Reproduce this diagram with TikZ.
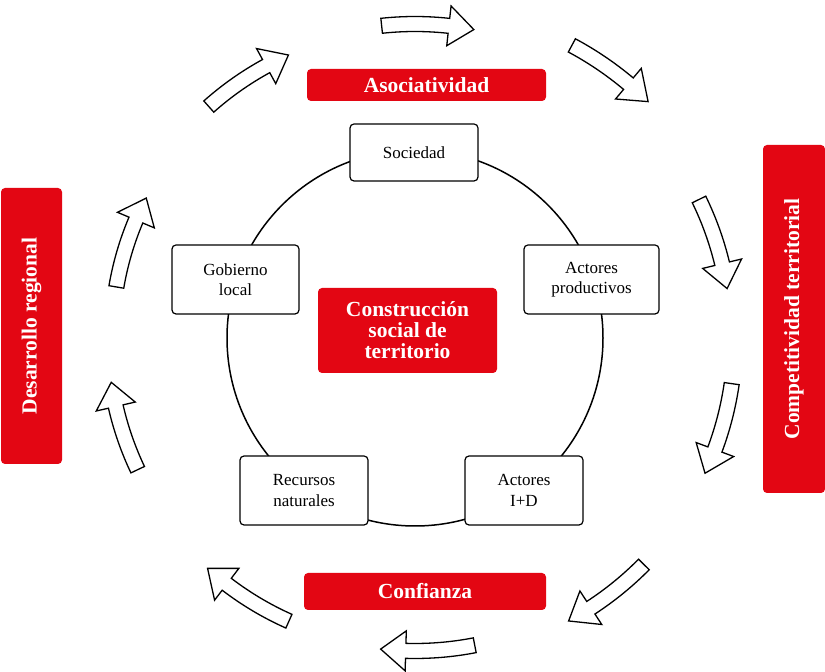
\documentclass[tikz,border=0pt]{standalone}
\usepackage{fontspec}
\setmainfont{Liberation Serif}
\usepackage{tikz}
\definecolor{rojo}{RGB}{227,6,19}

\newcommand{\flecha}[3]{%
\pgfmathsetmacro{\hb}{#3+4.6}
\draw[band] (#2:{#1-7.5}) arc[start angle=#2, end angle=\hb, radius={#1-7.5}]
  -- (\hb:{#1-20}) -- (#3:#1) -- (\hb:{#1+20}) -- (\hb:{#1+7.5})
  arc[start angle=\hb, end angle=#2, radius={#1+7.5}] -- cycle;}

\begin{document}
\begin{tikzpicture}[x=1pt,y=1pt,
  wbox/.style={draw,rounded corners=4pt,fill=white,line width=1.2pt,align=center,
    font=\fontsize{17}{20.5}\selectfont,inner sep=0pt},
  rbox/.style={fill=rojo,rounded corners=4pt,text=white,align=center,inner sep=0pt,
    font=\fontsize{21.5}{21}\selectfont\bfseries},
  band/.style={draw,fill=white,line width=1.3pt,line join=miter}]
\useasboundingbox (0,0) rectangle (825,672);

\draw[line width=1.5pt] (415,334) circle[radius=188];

\node [wbox,minimum width=128,minimum height=57] (soc) at (414,519.5) {Sociedad};
\node [wbox,minimum width=127,minimum height=69] (gob) at (235.5,392.5) {Gobierno\\local};
\node [wbox,minimum width=135,minimum height=69] (prod) at (591.5,392.5) {Actores\\productivos};
\node [wbox,minimum width=128,minimum height=69] (rec) at (304,181.5) {Recursos\\naturales};
\node [wbox,minimum width=118,minimum height=69] (id) at (524,181.5) {Actores\\I+D};
\node [rbox,minimum width=179,minimum height=85] (centro) at (407.5,341.5) {Construcción\\social de\\territorio};

\node [rbox,minimum width=239,minimum height=32] (asoc) at (426.5,587) {Asociatividad};
\node [rbox,minimum width=242,minimum height=37] (conf) at (425,80.5) {Confianza};
\node [rbox,rotate=90,minimum width=276,minimum height=61] (des) at (31.5,346) {Desarrollo regional};
\node [rbox,rotate=90,minimum width=348,minimum height=62] (comp) at (794,353) {Competitividad territorial};

\begin{scope}[shift={(415,334)}]
\flecha{310}{131.7}{114.1}
\flecha{314}{96.1}{79.2}
\flecha{332}{61.8}{45.4}
\flecha{316}{26}{9}
\flecha{320}{-8.2}{-25}
\flecha{322}{-44.7}{-61.5}
\flecha{313}{-79}{-96.3}
\flecha{310}{-114}{-132}
\flecha{307}{205.4}{188.3}
\flecha{303}{170.3}{152.5}
\end{scope}
\end{tikzpicture}
\end{document}
